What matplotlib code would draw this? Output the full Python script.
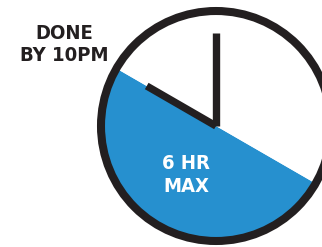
import numpy as np
import matplotlib.pyplot as plt
from matplotlib.patches import Circle

# clock data
slice_hours = [6, 6]          # blue = 6 hr max, rest of dial
slice_colors = ['#2690cf', 'white']
end_hour = 10                 # done by 10pm
end_minute = 0
label_top = "DONE\nBY 10PM"
label_mid = "6 HR\nMAX"

ink = '#231f20'
cx, cy, r = 216, 121, 115

fig = plt.figure(figsize=(3.22, 2.47), dpi=100)
ax = fig.add_axes([0, 0, 1, 1])

# hour hand angle (degrees, from +x, ccw)
hour_ang = 90 - 30 * (end_hour % 12 + end_minute / 60)
min_ang = 90 - 6 * end_minute

ax.pie(slice_hours, colors=slice_colors, startangle=hour_ang, counterclock=True,
       center=(cx, cy), radius=r, frame=True)
ax.set_xlim(0, 322)
ax.set_ylim(0, 247)
ax.set_aspect('equal')
ax.axis('off')

ax.add_patch(Circle((cx, cy), r, fill=False, edgecolor=ink, linewidth=5.8))

# hands
for ang, length in [(hour_ang, 80), (min_ang, 93)]:
    a = np.deg2rad(ang)
    ax.plot([cx, cx + length * np.cos(a)], [cy, cy + length * np.sin(a)],
            color=ink, linewidth=5.3, solid_capstyle='butt')

ax.text(64, 202, label_top, ha='center', va='center', color=ink, fontsize=14.5,
        fontweight='bold', fontstretch='condensed', linespacing=1.2)
ax.text(186, 72, label_mid, ha='center', va='center', color='white', fontsize=14.5,
        fontweight='bold', fontstretch='condensed', linespacing=1.25)

fig.savefig('out.png', dpi=100)
